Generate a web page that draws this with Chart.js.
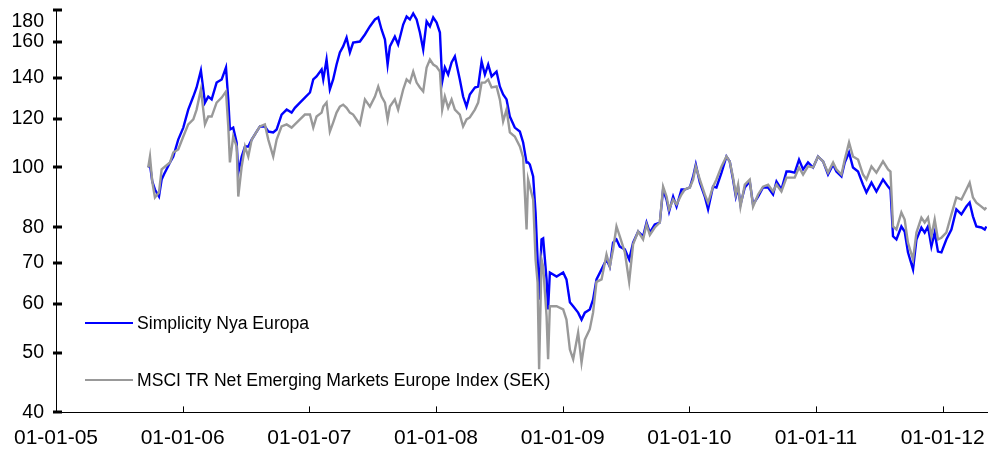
<!DOCTYPE html>
<html><head><meta charset="utf-8">
<script src="https://cdn.jsdelivr.net/npm/chart.js@4"></script>
<style>
html,body{margin:0;padding:0;background:#fff;}
#wrap{position:relative;width:1000px;height:452px;overflow:hidden;background:#fff;}
#cbox{position:absolute;left:0;top:-13px;width:1000px;height:465px;}
#legend{position:absolute;left:0;top:0;width:1000px;height:452px;pointer-events:none;font-family:"Liberation Sans",Arial,sans-serif;font-size:17.6px;color:#000;}
.li{position:absolute;left:85px;height:24px;display:flex;align-items:center;white-space:nowrap;}
.sw{display:inline-block;width:48px;margin-right:4px;}
</style></head>
<body>
<div id="wrap"><div id="cbox"><canvas id="c"></canvas></div><div id="legend"></div></div>
<script>
// decimal years
const dates = [
2005.728,2005.742,2005.760,2005.781,2005.813,2005.834,2005.852,2005.900,2005.926,2005.965,
2006.005,2006.044,2006.084,2006.110,2006.144,2006.176,2006.202,2006.229,2006.268,2006.308,
2006.342,2006.360,2006.373,2006.399,2006.426,2006.439,2006.466,2006.492,2006.518,2006.545,
2006.584,2006.610,2006.649,2006.676,2006.715,2006.742,2006.781,2006.821,2006.860,2006.886,
2006.926,2006.965,2007.005,2007.031,2007.057,2007.097,2007.110,2007.136,2007.162,2007.188,
2007.215,2007.241,2007.267,2007.294,2007.320,2007.346,2007.399,2007.439,2007.478,2007.518,
2007.544,2007.570,2007.597,2007.618,2007.636,2007.675,2007.701,2007.741,2007.768,2007.794,
2007.820,2007.847,2007.873,2007.899,2007.926,2007.952,2007.978,2008.005,2008.031,2008.049,
2008.070,2008.096,2008.123,2008.149,2008.188,2008.214,2008.241,2008.267,2008.307,2008.333,
2008.360,2008.386,2008.412,2008.439,2008.478,2008.504,2008.530,2008.557,2008.583,2008.622,
2008.662,2008.688,2008.715,2008.727,2008.741,2008.767,2008.786,2008.802,2008.814,2008.833,
2008.846,2008.873,2008.885,2008.899,2008.952,2009.004,2009.030,2009.057,2009.083,2009.122,
2009.149,2009.175,2009.214,2009.240,2009.267,2009.307,2009.346,2009.372,2009.398,2009.425,
2009.451,2009.491,2009.525,2009.556,2009.596,2009.635,2009.662,2009.688,2009.727,2009.767,
2009.793,2009.820,2009.840,2009.872,2009.899,2009.938,2009.964,2010.004,2010.030,2010.051,
2010.083,2010.122,2010.148,2010.187,2010.214,2010.254,2010.293,2010.319,2010.345,2010.367,
2010.385,2010.404,2010.438,2010.477,2010.503,2010.543,2010.582,2010.622,2010.661,2010.688,
2010.727,2010.767,2010.793,2010.832,2010.866,2010.898,2010.937,2010.977,2011.016,2011.056,
2011.095,2011.135,2011.161,2011.201,2011.227,2011.261,2011.292,2011.332,2011.371,2011.398,
2011.438,2011.477,2011.529,2011.569,2011.588,2011.608,2011.635,2011.674,2011.700,2011.726,
2011.766,2011.793,2011.832,2011.858,2011.884,2011.911,2011.937,2011.963,2011.990,2012.029,
2012.069,2012.108,2012.148,2012.187,2012.213,2012.239,2012.266,2012.306,2012.332,2012.345
];
const simplicity = [
100,101,94.9,92.1,89.7,95.6,97.4,101.9,104.2,111,
116.1,124.2,130.4,134.9,143.8,127.5,130.4,129,137.4,139,
145.4,129,115.3,116.1,109.8,98.1,104.2,108.2,108.2,111,
114.4,116.6,116.6,114.4,114,115.3,121.9,124.2,122.8,125,
127.5,129.9,132.4,139,140.6,144.3,139,149.8,133.9,139,
147,153.8,157.3,162.6,153.8,159.6,160.2,164.5,169.5,174,
175.3,167.6,161.4,147,157.3,163.2,158.4,170.7,175.9,174,
177.9,174,165.7,155.5,172.7,169.5,175.3,172,165.7,137.9,
145.4,141.6,148.1,151.5,139,130.4,125.6,131.4,134.9,135.4,
148.7,141.6,147,140.6,143.2,135.4,131.4,129,121,116.1,
114.4,109.8,101.9,101.9,101.1,96.7,84.5,70.9,61,76.4,
76.7,65.8,58.8,67.5,66.5,67.5,65.8,60.4,59.5,58.1,
56.6,58.1,58.8,61,65.8,68.3,70.9,69,75.5,76.4,
74.4,73.6,70.9,75.5,78.7,77.3,81.4,78.4,80.8,81.4,
92.1,88.7,84.8,89.7,86.4,92.1,92.1,92.8,96.7,101.1,
94.5,89.7,85.5,93.1,92.8,98.1,104.2,102.3,95.6,89.7,
92.8,87.1,92.8,94.9,87.1,89.7,92.8,92.8,90.4,94.9,
92.1,98.5,98.5,98.1,103,99.3,101.9,100,104.2,102.3,
97.4,101.1,98.5,96.7,101.9,105.8,100,98.5,93.8,91.1,
94.5,91.4,95.6,93.1,92.1,77.3,76.4,80.2,78.7,72.8,
68.3,76.4,79.9,78.4,80.2,74.4,78.4,73,72.8,76.4,
79.3,85.5,83.9,86.4,87.7,83.3,80.2,79.9,79.3,80.2
];
const msci = [
100,104.2,94.9,89.4,91.1,99.3,100,101.9,105.8,107,
112.3,117.5,119.7,124.2,133.9,117.5,121,121,127.5,129.9,
132.9,116.6,101.9,112.3,108.2,89.7,100.4,108.2,104.2,111,
114.4,116.6,117.5,111,104.2,111,116.6,117.5,116.1,117.5,
119.7,121.9,121.9,116.1,121,122.8,125.6,127.5,114.4,118.3,
122.8,125.6,126.5,125,122.8,121.9,117.5,129,125.6,130.4,
135.4,130.4,127.5,119.7,125.6,129,124.2,133.9,139,137.4,
143.2,137.4,134.9,132.9,145.4,149.8,147,145.8,143.2,124.2,
130.4,125,129,124.2,121.9,116.6,119.7,120.6,124.2,127.5,
137.4,137.4,139,134.9,135.4,129,118.8,124.2,114,112.3,
108.2,103.8,79.3,95.6,93.1,88.7,70.9,65,47,70.9,
69,57.3,48.8,59.5,59.5,58.8,56.6,50.6,48.8,53.9,
48.2,52.5,54.6,58.1,65.2,65.8,72.2,69,73.6,80.2,
77.3,72.8,65.2,75,78.7,76.4,80.8,77.7,79.9,81.4,
93.1,89.7,85.5,88.7,87.1,90.4,92.1,92.8,95.6,100.4,
95.6,90.4,87.7,93.1,95.6,100.4,104.2,102.3,96.3,90.4,
93.8,86.4,93.8,95.6,86.4,90.4,93.1,93.8,91.4,93.8,
91.4,96.3,96.3,96.3,100,97.4,100.4,100,104.2,102.3,
98.1,101.9,99.3,97.4,103,109.8,104.2,103,97.4,95.6,
100.4,98.1,102.3,99.3,98.5,80.2,79.3,84.5,82.3,75.5,
70.9,78.4,82.9,81.4,82.9,77.3,82.3,76.4,76.9,78.4,
83.9,89.4,88.7,92.1,94.5,89.4,87.7,86.4,85.5,86.1
];
const seriesNames = ["Simplicity Nya Europa", "MSCI TR Net Emerging Markets Europe Index (SEK)"];
const seriesColors = ["#0000FF", "#999999"];
const yTicks = [40, 50, 60, 70, 80, 100, 120, 140, 160, 180];
const xTickYears = [2005, 2006, 2007, 2008, 2009, 2010, 2011, 2012];
const xMax = 2012.35;

const FONT = '"Liberation Sans", Arial, sans-serif';

const innerTicks = {
  id: 'innerTicks',
  afterDraw(chart) {
    const {ctx, chartArea: a, scales: {x, y}} = chart;
    ctx.save();
    ctx.strokeStyle = '#000';
    ctx.lineWidth = 3;
    y.ticks.forEach(t => {
      const py = Math.round(y.getPixelForValue(t.value));
      ctx.beginPath(); ctx.moveTo(a.left - 3, py); ctx.lineTo(a.left + 6, py); ctx.stroke();
    });
    ctx.lineWidth = 1;
    x.ticks.forEach(t => {
      const px = Math.round(x.getPixelForValue(t.value)) + 0.5;
      ctx.beginPath(); ctx.moveTo(px, a.bottom); ctx.lineTo(px, a.bottom - 6); ctx.stroke();
    });
    ctx.restore();
  }
};

const mk = (arr) => dates.map((d, i) => ({x: d, y: arr[i]}));

const chart = new Chart(document.getElementById('c'), {
  type: 'line',
  data: {
    datasets: [
      {label: seriesNames[0], data: mk(simplicity), borderColor: seriesColors[0], borderWidth: 2.4, pointRadius: 0, tension: 0, order: 1},
      {label: seriesNames[1], data: mk(msci), borderColor: seriesColors[1], borderWidth: 2.4, pointRadius: 0, tension: 0, order: 0}
    ]
  },
  options: {
    responsive: true, maintainAspectRatio: false, animation: false, devicePixelRatio: 1,
    layout: {padding: {left: 0, right: 13, top: 0, bottom: 2}},
    plugins: {legend: {display: false}, tooltip: {enabled: false}},
    scales: {
      x: {
        type: 'linear', min: 2005, max: xMax,
        afterBuildTicks: s => { s.ticks = xTickYears.map(v => ({value: v})); },
        ticks: {
          callback: v => '01-01-' + String(Math.round(v) % 100).padStart(2, '0'),
          font: {family: FONT, size: 21}, color: '#000', padding: 13, maxRotation: 0, autoSkip: false
        },
        grid: {display: false, drawTicks: false},
        border: {display: true, color: '#000', width: 1}
      },
      y: {
        type: 'logarithmic', min: 40, max: 180,
        afterBuildTicks: s => { s.ticks = yTicks.map(v => ({value: v})); },
        afterFit: s => { s.width = 56; },
        ticks: {
          callback: v => (v === yTicks[yTicks.length - 1] ? ['', String(v)] : String(v)),
          font: {family: FONT, size: 19.5}, color: '#000', padding: 12, autoSkip: false
        },
        grid: {display: false, drawTicks: false},
        border: {display: true, color: '#000', width: 1}
      }
    }
  },
  plugins: [innerTicks]
});

// align the plotting frame with the page frame (top 10, bottom 412)
(function fit() {
  const box = document.getElementById('cbox');
  const H0 = box.clientHeight;
  const T = chart.chartArea.top;
  const B = H0 - chart.chartArea.bottom;
  const H = (412 - 10) + T + B;
  box.style.top = (10 - T) + 'px';
  box.style.height = H + 'px';
  chart.resize(1000, H);
})();

// legend (html)
const legend = document.getElementById('legend');
const legendRows = [323, 380];
chart.data.datasets.forEach((ds, i) => {
  const row = document.createElement('div');
  row.className = 'li';
  row.style.top = (legendRows[i] - 12) + 'px';
  const sw = document.createElement('span');
  sw.className = 'sw';
  sw.style.height = '2px';
  sw.style.background = ds.borderColor;
  const tx = document.createElement('span');
  tx.textContent = ds.label;
  row.appendChild(sw); row.appendChild(tx);
  legend.appendChild(row);
});
</script>
</body></html>
